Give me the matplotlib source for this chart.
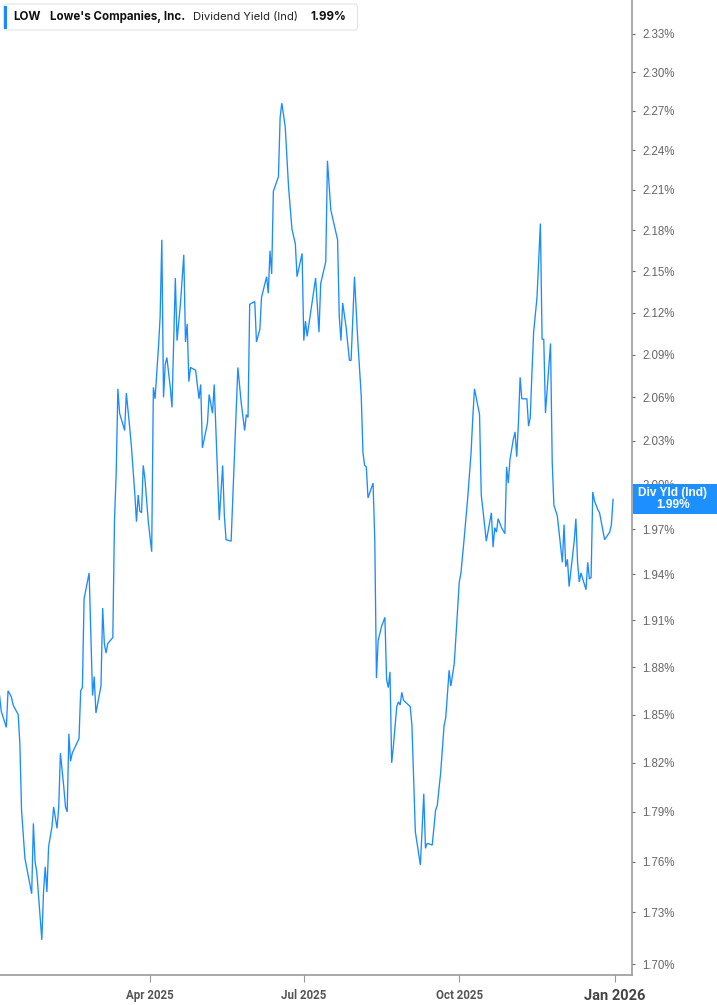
import matplotlib
matplotlib.use("Agg")
import matplotlib.pyplot as plt
import matplotlib.dates as mdates
from matplotlib.ticker import FixedLocator, FuncFormatter, NullLocator
from matplotlib.patches import Rectangle, FancyBboxPatch
import numpy as np
import pandas as pd

# ---------------- data ----------------
ticker = "LOW"
company = "Lowe's Companies, Inc."
metric = "Dividend Yield (Ind)"
last_value_label = "1.99%"

dates = [
    "2025-01-02", "2025-01-03", "2025-01-06", "2025-01-07", "2025-01-09", "2025-01-10", "2025-01-13", "2025-01-14",
    "2025-01-15", "2025-01-17", "2025-01-21", "2025-01-22", "2025-01-23", "2025-01-24", "2025-01-27", "2025-01-28",
    "2025-01-29", "2025-01-30", "2025-01-31", "2025-02-02", "2025-02-03", "2025-02-05", "2025-02-06", "2025-02-07",
    "2025-02-09", "2025-02-10", "2025-02-11", "2025-02-12", "2025-02-13", "2025-02-14", "2025-02-18", "2025-02-19",
    "2025-02-20", "2025-02-21", "2025-02-24", "2025-02-26", "2025-02-27", "2025-02-28", "2025-03-03", "2025-03-04",
    "2025-03-05", "2025-03-06", "2025-03-07", "2025-03-10", "2025-03-11", "2025-03-12", "2025-03-13", "2025-03-14",
    "2025-03-17", "2025-03-18", "2025-03-20", "2025-03-21", "2025-03-23", "2025-03-24", "2025-03-25", "2025-03-26",
    "2025-03-27", "2025-03-28", "2025-03-29", "2025-03-31", "2025-04-02", "2025-04-03", "2025-04-04", "2025-04-06",
    "2025-04-07", "2025-04-08", "2025-04-09", "2025-04-10", "2025-04-11", "2025-04-13", "2025-04-14", "2025-04-16",
    "2025-04-17", "2025-04-19", "2025-04-21", "2025-04-22", "2025-04-23", "2025-04-24", "2025-04-25", "2025-04-28",
    "2025-04-30", "2025-05-01", "2025-05-02", "2025-05-05", "2025-05-06", "2025-05-08", "2025-05-09", "2025-05-12",
    "2025-05-14", "2025-05-15", "2025-05-16", "2025-05-19", "2025-05-23", "2025-05-25", "2025-05-27", "2025-05-28",
    "2025-05-29", "2025-05-30", "2025-06-02", "2025-06-03", "2025-06-05", "2025-06-06", "2025-06-09", "2025-06-10",
    "2025-06-11", "2025-06-12", "2025-06-13", "2025-06-16", "2025-06-17", "2025-06-18", "2025-06-20", "2025-06-22",
    "2025-06-24", "2025-06-26", "2025-06-27", "2025-06-30", "2025-07-01", "2025-07-02", "2025-07-03", "2025-07-08",
    "2025-07-10", "2025-07-11", "2025-07-14", "2025-07-15", "2025-07-17", "2025-07-21", "2025-07-22", "2025-07-23",
    "2025-07-24", "2025-07-26", "2025-07-28", "2025-07-29", "2025-07-31", "2025-08-02", "2025-08-04", "2025-08-05",
    "2025-08-06", "2025-08-07", "2025-08-08", "2025-08-11", "2025-08-12", "2025-08-13", "2025-08-14", "2025-08-16",
    "2025-08-18", "2025-08-19", "2025-08-20", "2025-08-21", "2025-08-22", "2025-08-23", "2025-08-25", "2025-08-26",
    "2025-08-27", "2025-08-28", "2025-08-29", "2025-09-02", "2025-09-03", "2025-09-05", "2025-09-08", "2025-09-10",
    "2025-09-11", "2025-09-12", "2025-09-15", "2025-09-17", "2025-09-18", "2025-09-20", "2025-09-22", "2025-09-23",
    "2025-09-25", "2025-09-26", "2025-09-28", "2025-09-29", "2025-10-01", "2025-10-02", "2025-10-04", "2025-10-06",
    "2025-10-08", "2025-10-09", "2025-10-10", "2025-10-13", "2025-10-14", "2025-10-15", "2025-10-17", "2025-10-20",
    "2025-10-21", "2025-10-22", "2025-10-23", "2025-10-24", "2025-10-26", "2025-10-28", "2025-10-29", "2025-10-30",
    "2025-10-31", "2025-11-02", "2025-11-03", "2025-11-04", "2025-11-05", "2025-11-06", "2025-11-07", "2025-11-10",
    "2025-11-11", "2025-11-12", "2025-11-13", "2025-11-14", "2025-11-16", "2025-11-18", "2025-11-19", "2025-11-20",
    "2025-11-21", "2025-11-24", "2025-11-25", "2025-11-26", "2025-11-28", "2025-12-01", "2025-12-02", "2025-12-03",
    "2025-12-04", "2025-12-05", "2025-12-08", "2025-12-09", "2025-12-10", "2025-12-11", "2025-12-12", "2025-12-15",
    "2025-12-16", "2025-12-17", "2025-12-18", "2025-12-19", "2025-12-20", "2025-12-22", "2025-12-23", "2025-12-26",
    "2025-12-29", "2025-12-30", "2025-12-31",
]

div_yield = [
    1.862, 1.852, 1.842, 1.865, 1.861, 1.856, 1.850, 1.832,
    1.791, 1.762, 1.741, 1.783, 1.760, 1.754, 1.714, 1.742,
    1.757, 1.742, 1.769, 1.781, 1.793, 1.780, 1.793, 1.826,
    1.805, 1.793, 1.790, 1.838, 1.821, 1.826, 1.835, 1.865,
    1.867, 1.924, 1.941, 1.862, 1.874, 1.851, 1.868, 1.918,
    1.895, 1.889, 1.895, 1.899, 1.976, 2.008, 2.066, 2.049,
    2.037, 2.063, 2.039, 2.026, 1.994, 1.975, 1.993, 1.982,
    1.981, 2.013, 2.004, 1.975, 1.955, 2.067, 2.059, 2.095,
    2.117, 2.173, 2.060, 2.083, 2.088, 2.067, 2.053, 2.145,
    2.100, 2.126, 2.162, 2.099, 2.112, 2.071, 2.081, 2.079,
    2.059, 2.069, 2.025, 2.042, 2.062, 2.049, 2.069, 1.976,
    2.013, 1.979, 1.963, 1.962, 2.081, 2.056, 2.037, 2.048,
    2.046, 2.126, 2.128, 2.099, 2.108, 2.131, 2.146, 2.134,
    2.165, 2.148, 2.209, 2.220, 2.265, 2.276, 2.258, 2.212,
    2.181, 2.170, 2.146, 2.163, 2.100, 2.114, 2.103, 2.145,
    2.106, 2.141, 2.157, 2.232, 2.195, 2.173, 2.117, 2.100,
    2.127, 2.110, 2.086, 2.086, 2.146, 2.099, 2.061, 2.022,
    2.013, 2.012, 1.991, 2.001, 1.963, 1.873, 1.897, 1.906,
    1.912, 1.872, 1.867, 1.877, 1.820, 1.830, 1.855, 1.858,
    1.856, 1.864, 1.859, 1.855, 1.843, 1.778, 1.758, 1.801,
    1.768, 1.771, 1.770, 1.791, 1.794, 1.814, 1.843, 1.848,
    1.878, 1.868, 1.882, 1.899, 1.935, 1.941, 1.965, 1.991,
    2.022, 2.046, 2.066, 2.048, 1.993, 1.983, 1.962, 1.981,
    1.958, 1.971, 1.968, 1.977, 1.971, 1.967, 2.012, 2.001,
    2.017, 2.031, 2.036, 2.019, 2.042, 2.074, 2.059, 2.059,
    2.040, 2.046, 2.077, 2.106, 2.131, 2.185, 2.101, 2.101,
    2.049, 2.098, 2.015, 1.986, 1.979, 1.948, 1.973, 1.945,
    1.950, 1.932, 1.962, 1.977, 1.948, 1.935, 1.941, 1.930,
    1.948, 1.937, 1.938, 1.995, 1.989, 1.983, 1.981, 1.963,
    1.968, 1.973, 1.990,
]

y_ticks = [1.70, 1.73, 1.76, 1.79, 1.82, 1.85, 1.88, 1.91, 1.94, 1.97, 2.00,
           2.03, 2.06, 2.09, 2.12, 2.15, 2.18, 2.21, 2.24, 2.27, 2.30, 2.33]
x_tick_dates = ["2025-04-01", "2025-07-01", "2025-10-01", "2026-01-01"]
x_tick_labels = ["Apr 2025", "Jul 2025", "Oct 2025", "Jan 2026"]

# ---------------- figure ----------------
W, H = 717, 1005
fig = plt.figure(figsize=(W / 100, H / 100), dpi=100)
fig.patch.set_facecolor("white")

ax_left, ax_right = 0, 632
ax_top, ax_bottom = 0, 975
ax = fig.add_axes([ax_left / W, 1 - ax_bottom / H, (ax_right - ax_left) / W, (ax_bottom - ax_top) / H])

line_color = "#1a8cff"
x = pd.to_datetime(dates)
ax.plot(x, div_yield, color=line_color, lw=0.95, solid_joinstyle="miter", zorder=3)

ax.set_yscale("log")
ax.set_ylim(1.6937, 2.357)
ax.yaxis.set_major_locator(FixedLocator(y_ticks))
ax.yaxis.set_minor_locator(NullLocator())
ax.yaxis.set_major_formatter(FuncFormatter(lambda v, p: f"{v:.2f}%"))
ax.yaxis.tick_right()

ax.set_xlim(pd.Timestamp("2025-01-02 06:00"), pd.Timestamp("2026-01-11 05:00"))
ax.xaxis.set_major_locator(FixedLocator(mdates.date2num(pd.to_datetime(x_tick_dates))))
ax.xaxis.set_minor_locator(NullLocator())
ax.set_xticklabels(x_tick_labels)

for s in ["top", "left"]:
    ax.spines[s].set_visible(False)
for s in ["right", "bottom"]:
    ax.spines[s].set_color("#9a9a9a")
    ax.spines[s].set_linewidth(1.2)

ax.tick_params(axis="y", which="major", direction="out", length=2.5, width=0.8,
               color="#666666", pad=5, labelsize=8.3, labelcolor="#666666")
ax.tick_params(axis="x", which="major", direction="out", length=5, width=0.8,
               color="#999999", pad=5, labelsize=8.3, labelcolor="#555555")
for lbl in ax.get_yticklabels():
    lbl.set_fontfamily(["Liberation Sans", "DejaVu Sans"])
xl = ax.get_xticklabels()
for lbl in xl:
    lbl.set_fontfamily(["Liberation Sans Narrow", "Roboto", "DejaVu Sans"])
    lbl.set_fontweight("bold")
xl[-1].set_fontsize(10.5)
xl[-1].set_color("#444444")
ax.grid(False)

# ---------------- legend box (top-left) ----------------
box = FancyBboxPatch((3.5 / W, 1 - 30 / H), 354 / W, 26 / H,
                     boxstyle="round,pad=0,rounding_size=0.004",
                     transform=fig.transFigure, facecolor="white",
                     edgecolor="#e3e3e3", linewidth=0.8, zorder=5)
fig.patches.append(box)
fig.patches.append(Rectangle((4 / W, 1 - 29 / H), 3 / W, 23 / H, transform=fig.transFigure,
                             facecolor=line_color, edgecolor="none", zorder=6))
ly = 1 - 17 / H
fam = ["Inter", "Roboto", "DejaVu Sans"]
fig.text(13 / W, ly, ticker, fontsize=8.4, fontweight="bold", color="#111111",
         va="center", ha="left", family=fam, zorder=7)
fig.text(50 / W, ly, company, fontsize=8.3, fontweight="bold", color="#111111",
         va="center", ha="left", family=fam, zorder=7)
fig.text(193 / W, ly, metric, fontsize=8.1, color="#222222",
         va="center", ha="left", family=fam, zorder=7)
fig.text(310 / W, ly, last_value_label, fontsize=8.4, fontweight="bold", color="#111111",
         va="center", ha="left", family=fam, zorder=7)

# ---------------- last value tag (right) ----------------
tag_top = 484
tag_h = 30
fig.patches.append(Rectangle((633 / W, 1 - (tag_top + tag_h) / H), 84 / W, tag_h / H,
                             transform=fig.transFigure, facecolor="#1e8fff",
                             edgecolor="none", zorder=8))
fig.text(673 / W, 1 - (tag_top + 9) / H, "Div Yld (Ind)", fontsize=8.6, fontweight="bold",
         color="white", ha="center", va="center", family=["Liberation Sans", "DejaVu Sans"], zorder=9)
fig.text(673 / W, 1 - (tag_top + 21) / H, last_value_label, fontsize=8.6, fontweight="bold",
         color="white", ha="center", va="center", family=["Liberation Sans", "DejaVu Sans"], zorder=9)

fig.savefig("out.png", dpi=100, facecolor="white")
